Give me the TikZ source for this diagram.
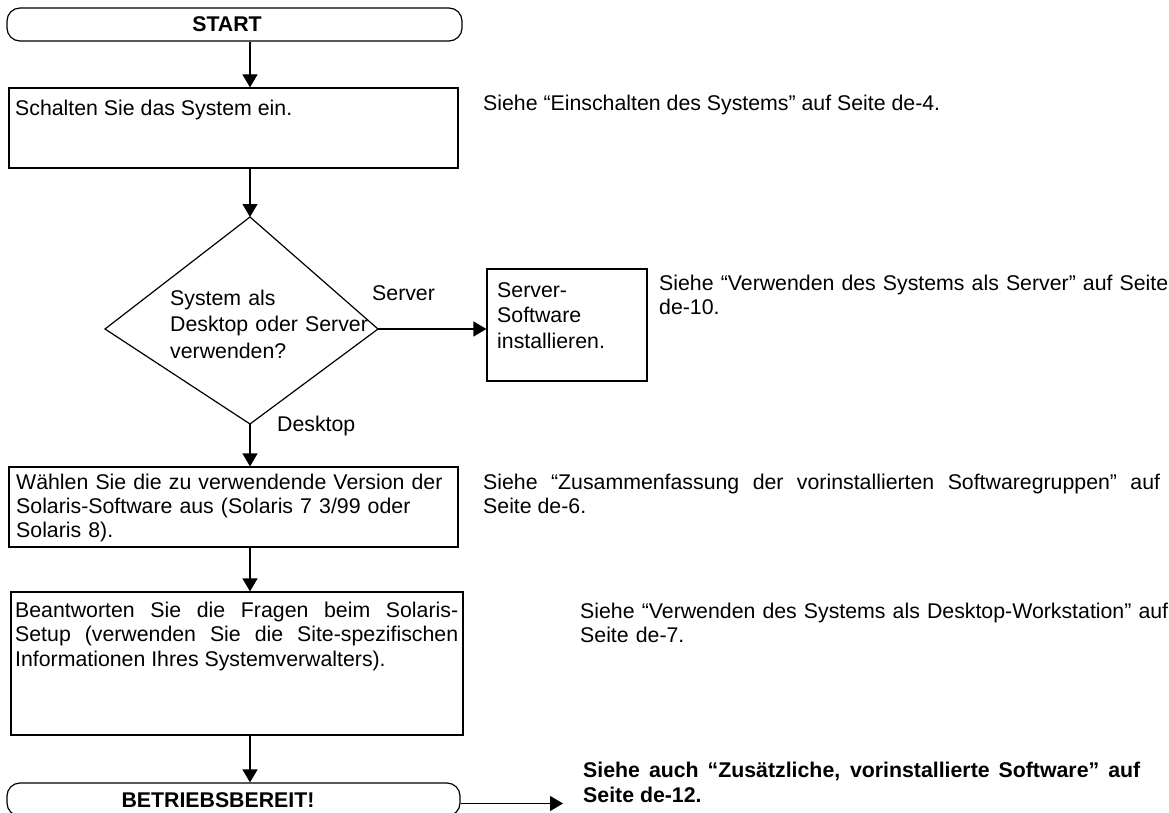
\documentclass[tikz,border=0pt]{standalone}
\usepackage{fontspec}
\setmainfont{Liberation Sans}
\usetikzlibrary{arrows.meta}
\newcommand\myfs{\fontsize{21.3pt}{24.5pt}\selectfont\tolerance=10000\hyphenpenalty=10000}
\tikzset{
  box/.style={draw, line width=1.2pt, inner sep=0pt, rectangle},
  term/.style={box, rounded corners=13pt},
  txt/.style={inner sep=0pt, anchor=base west, font=\myfs},
  btxt/.style={inner sep=0pt, anchor=base, font=\myfs\bfseries},
  arr/.style={line width=1.2pt, -{Triangle[length=13pt,width=15pt]}},
  dia/.style={line width=1.2pt, line join=miter}
}
\begin{document}
\begin{tikzpicture}[x=1pt,y=-1pt]
\useasboundingbox (0,0) rectangle (1169,813);
\clip (0,0) rectangle (1169,813);

% nodes
\node[term, minimum width=455pt, minimum height=33pt] (start) at (234.5,24.5) {};
\node[btxt] (starttxt) at (227,32) {START};

\node[box, minimum width=449pt, minimum height=80pt] (b1) at (233.5,128) {};
\node[txt] (b1txt) at (15,116) {Schalten Sie das System ein.};

\coordinate (dT) at (250,217);
\coordinate (dR) at (378,329);
\coordinate (dB) at (250,424);
\coordinate (dL) at (105,329);
\draw[dia] (dT) -- (dR) -- (dB) -- (dL) -- cycle;
\node[txt, text width=220pt, align=left, font=\fontsize{21.3pt}{26.5pt}\selectfont] (dtxt) at (170,305)
  {System als\\Desktop oder Server\\verwenden?};
\node[txt] (lserver) at (372,300.5) {Server};
\node[txt] (ldesktop) at (277,431) {Desktop};

\node[box, minimum width=160pt, minimum height=112pt] (srv) at (567,325) {};
\node[txt, text width=140pt, align=left, font=\fontsize{21.3pt}{25.5pt}\selectfont] (srvtxt) at (497,297)
  {Server-\\Software\\installieren.};

\node[box, minimum width=449pt, minimum height=80pt] (b3) at (233.5,507) {};
\node[txt, text width=440pt, align=left, font=\fontsize{21.3pt}{24pt}\selectfont] (b3txt) at (16,489.5)
  {Wählen Sie die zu verwendende Version der\\Solaris-Software aus (Solaris 7 3/99 oder\\Solaris 8).};

\node[box, minimum width=452pt, minimum height=143pt] (b4) at (237,663.5) {};
\node[txt, text width=443pt, align=justify] (b4txt) at (15,617)
  {Beantworten Sie die Fragen beim Solaris-\linebreak Setup (verwenden Sie die Site-spezifischen\linebreak Informationen Ihres Systemverwalters).};

\node[term, minimum width=453pt, minimum height=33pt] (endn) at (233.5,799.5) {};
\node[btxt] (endtxt) at (218,807) {BETRIEBSBEREIT!};

% right-hand texts
\node[txt] (r1) at (483,111) {Siehe “Einschalten des Systems” auf Seite de-4.};
\node[txt, text width=560pt, align=left] (r2) at (659,290) {Siehe “Verwenden des Systems als Server” auf Seite\\de-10.};
\node[txt, text width=640pt, align=left] (r4) at (580,618) {Siehe “Verwenden des Systems als Desktop-Workstation” auf\\Seite de-7.};
\node[txt, text width=677pt, align=justify] (r3) at (483,489)
  {Siehe “Zusammenfassung der vorinstallierten Softwaregruppen” auf\linebreak Seite de-6.};
\node[txt, text width=557pt, align=justify, font=\myfs\bfseries] (r5) at (583,777.6)
  {Siehe auch “Zusätzliche, vorinstallierte Software” auf\linebreak Seite de-12.};
\coordinate (endtip) at (563,803.5);

% connectors
\draw[arr] (start.south -| dT) -- (b1.north -| dT);
\draw[arr] (b1.south -| dT) -- (dT);
\draw[arr] (dR) -- (dR -| srv.west);
\draw[arr] (dB) -- (b3.north -| dB);
\draw[arr] (b3.south -| dT) -- (b4.north -| dT);
\draw[arr] (b4.south -| dT) -- (endn.north -| dT);
\draw[arr] ([yshift=-4pt]endn.east) -- (endtip);
\end{tikzpicture}
\end{document}
